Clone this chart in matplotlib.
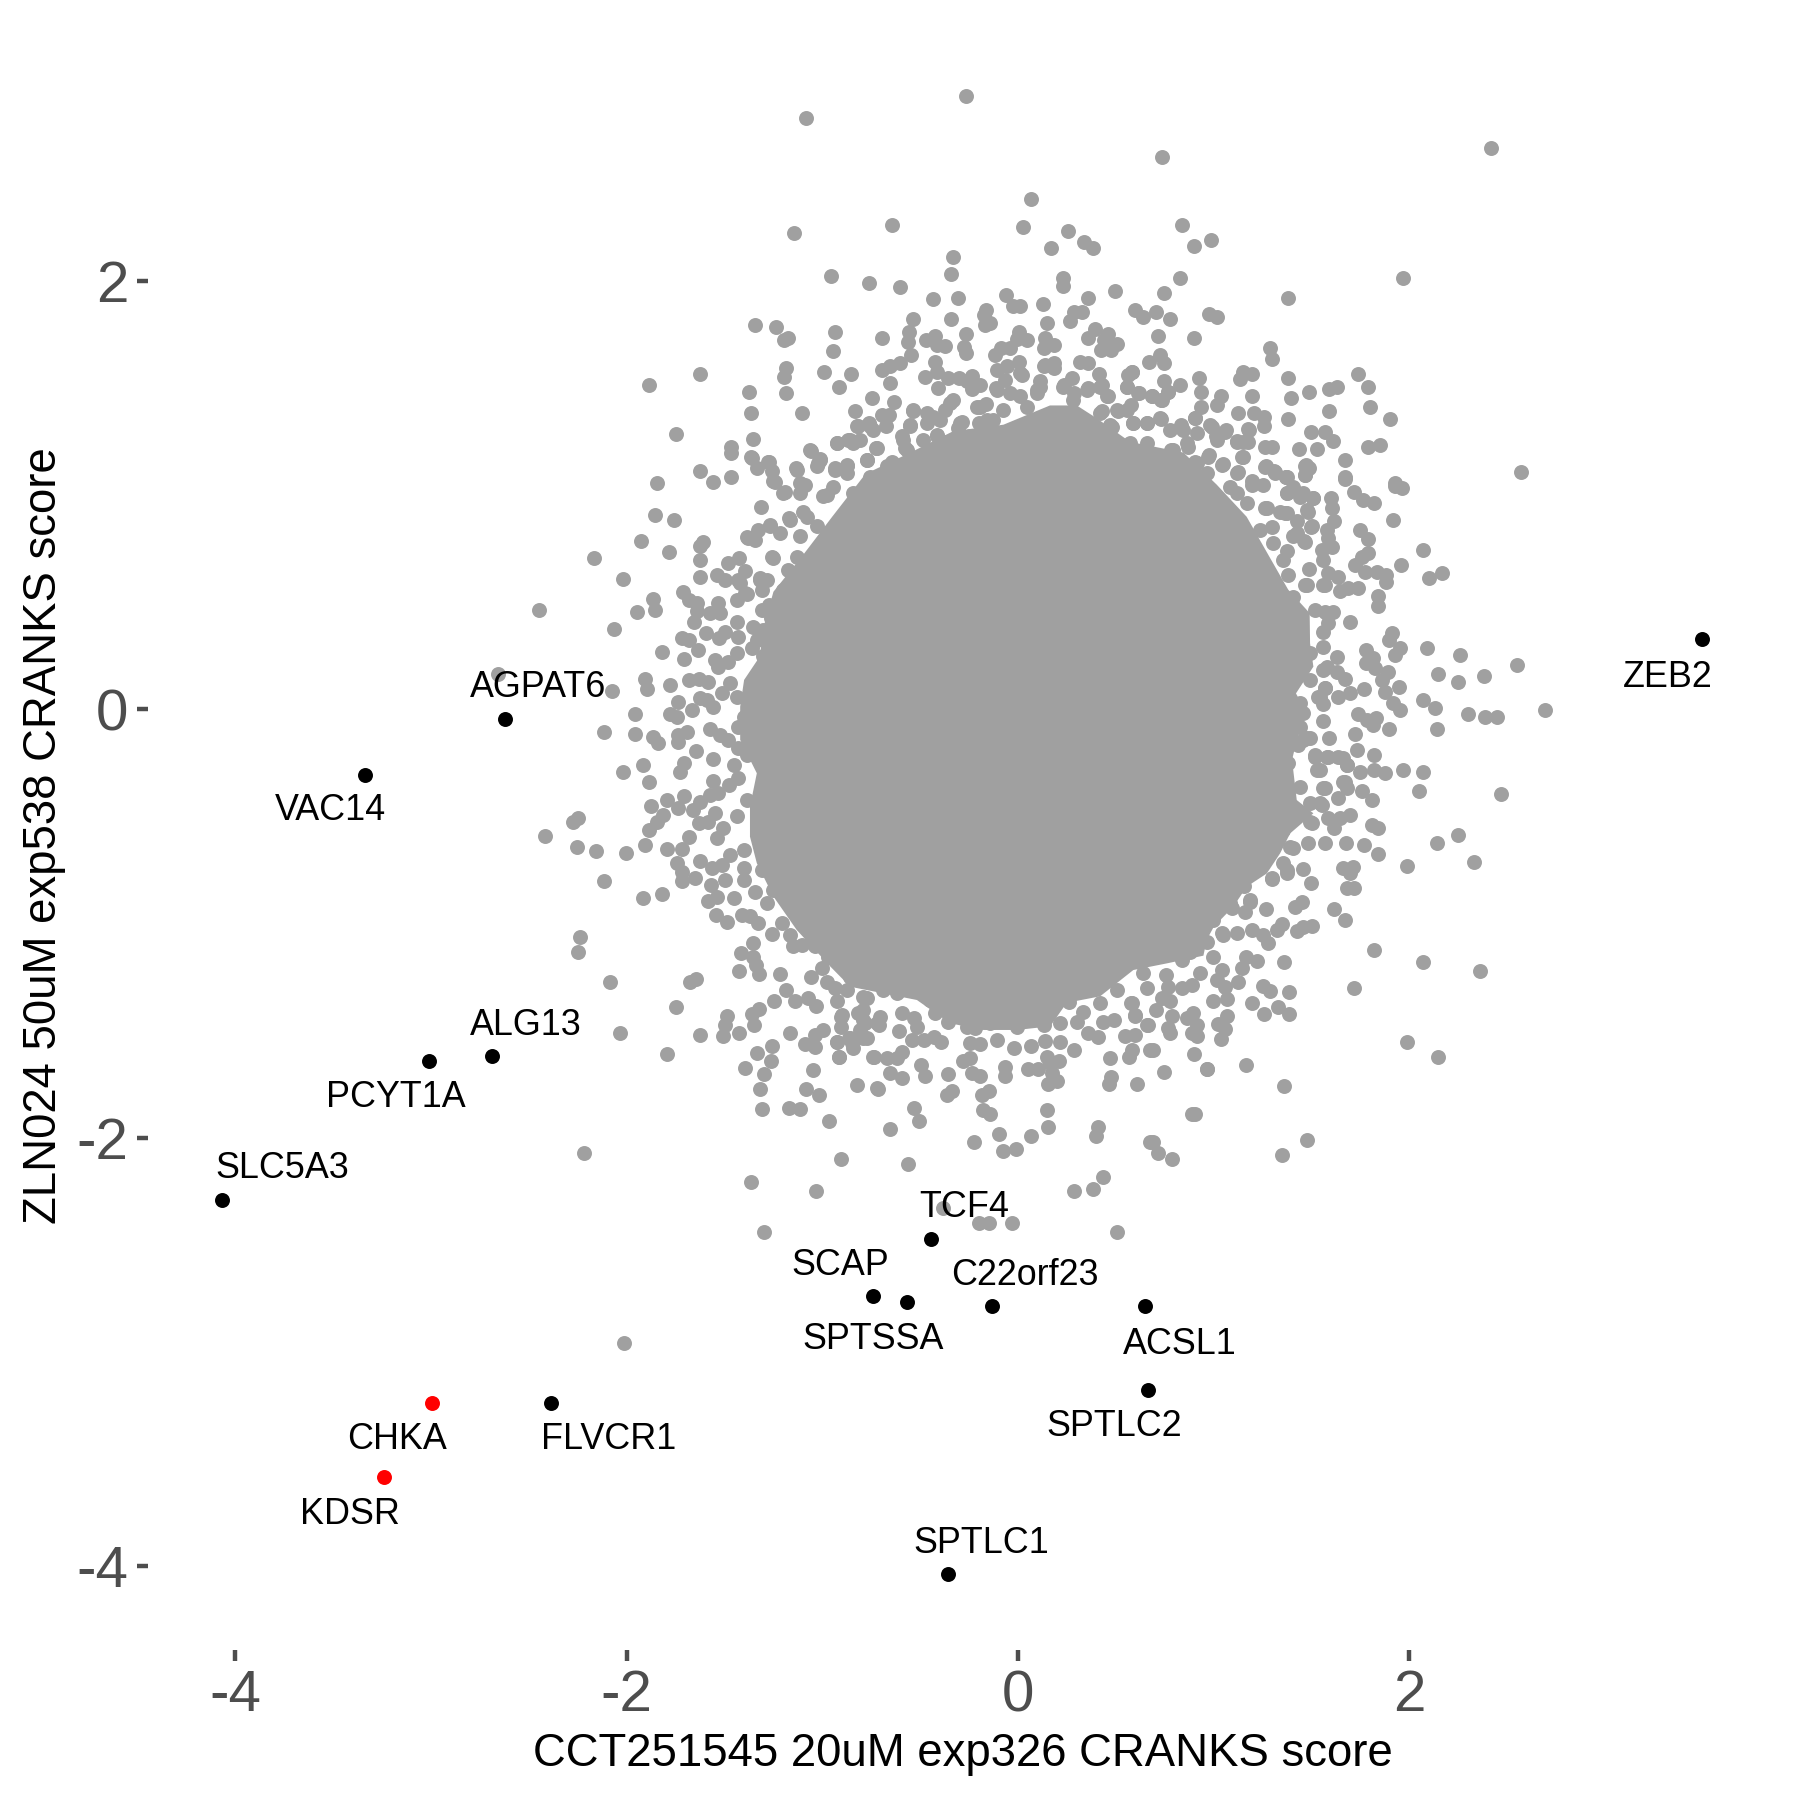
import matplotlib
matplotlib.use('Agg')
import matplotlib.pyplot as plt

plt.rcParams['font.family'] = ['Liberation Sans', 'DejaVu Sans']

x_ticks = [-4, -2, 0, 2]
y_ticks = [-4, -2, 0, 2]
x_tick_labels = ['-4', '-2', '0', '2']
y_tick_labels = ['-4', '-2', '0', '2']
x_title = 'CCT251545 20uM exp326 CRANKS score'
y_title = 'ZLN024 50uM exp538 CRANKS score'

# outline of the part where the points overlap into a solid area
core_outline = [
    (-0.331, 1.3), (-0.075, 1.33), (0.163, 1.42), (0.3, 1.42), (0.402, 1.36), (0.572, 1.25), (0.845, 1.2), (1.015, 1.05),
    (1.168, 0.9), (1.28, 0.72), (1.38, 0.56), (1.49, 0.45), (1.492, 0.309), (1.509, 0.2), (1.42, 0.075), (1.475, -0.018),
    (1.424, -0.143), (1.4, -0.236), (1.424, -0.423), (1.509, -0.485), (1.39, -0.579), (1.339, -0.672), (1.271, -0.766),
    (1.168, -0.828), (1.1, -0.921), (1.0, -1.015), (0.964, -1.076), (0.947, -1.15), (0.76, -1.186),
    (0.589, -1.217), (0.419, -1.34), (0.249, -1.37), (0.164, -1.48), (-0.006, -1.497), (-0.177, -1.497), (-0.347, -1.466),
    (-0.517, -1.357), (-0.688, -1.326), (-0.858, -1.295), (-0.96, -1.2), (-1.131, -1.03), (-1.25, -0.874),
    (-1.335, -0.718), (-1.37, -0.594), (-1.37, -0.454), (-1.335, -0.298), (-1.42, -0.142), (-1.42, 0.013), (-1.4, 0.138),
    (-1.32, 0.247), (-1.3, 0.387), (-1.25, 0.55), (-1.1, 0.72), (-0.95, 0.9), (-0.78, 1.1), (-0.55, 1.2),
]

# single points around it
upper_left = [
    (-0.264, 2.864), (-1.085, 2.763), (0.067, 2.385), (0.026, 2.254), (-0.645, 2.265), (-1.144, 2.224), (0.166, 2.154),
    (-0.335, 2.115), (-0.344, 2.034), (-0.955, 2.024), (-0.764, 1.994), (-0.604, 1.975), (0.232, 2.014), (0.232, 1.978),
    (-0.434, 1.915), (-0.305, 1.924), (-0.063, 1.935), (-0.027, 1.885), (0.011, 1.885), (0.126, 1.894), (-0.165, 1.866),
    (-0.173, 1.843), (-0.143, 1.804), (-0.167, 1.796), (-0.535, 1.826), (-0.344, 1.826), (0.147, 1.804), (-1.345, 1.795),
    (-1.236, 1.785), (-1.175, 1.736), (-1.195, 1.726), (-0.935, 1.765), (-0.945, 1.675), (-0.695, 1.736), (-0.555, 1.765),
    (-0.563, 1.715), (-0.545, 1.656), (-0.473, 1.725), (-0.424, 1.745), (-0.415, 1.703), (-0.374, 1.7), (-0.264, 1.756),
    (-0.274, 1.695), (-0.264, 1.664), (0.005, 1.765), (-0.007, 1.729), (0.045, 1.725), (-0.085, 1.686), (-0.041, 1.686),
    (-0.117, 1.656), (0.137, 1.736), (0.133, 1.686), (0.181, 1.703), (-0.424, 1.625), (-0.604, 1.616), (-0.654, 1.602),
    (-0.695, 1.586), (-0.475, 1.555), (-0.415, 1.578), (-0.41, 1.5), (-0.356, 1.546), (-0.301, 1.546), (-0.233, 1.558),
    (-0.262, 1.536), (-0.194, 1.516), (-0.233, 1.496), (-1.185, 1.597), (-1.195, 1.555), (-1.185, 1.476), (-0.994, 1.575),
    (-0.855, 1.566), (-0.916, 1.505), (-0.655, 1.525), (-1.625, 1.566), (-1.885, 1.516), (-1.376, 1.485), (-1.366, 1.385),
    (-1.105, 1.385), (-0.744, 1.455), (-0.635, 1.435), (-0.834, 1.396), (-0.535, 1.396), (-0.696, 1.376), (-0.662, 1.376),
    (-0.674, 1.326), (-0.824, 1.326), (-0.764, 1.337), (-0.742, 1.306), (-0.335, 1.446), (-0.373, 1.399), (-0.466, 1.384),
    (-0.466, 1.337), (-0.398, 1.353), (-0.552, 1.329), (-0.288, 1.345), (-0.305, 1.314), (-0.211, 1.415), (-0.165, 1.426),
    (-0.202, 1.337), (-0.126, 1.353), (-0.114, 1.5), (-0.109, 1.586), (-0.058, 1.602), (0.005, 1.625), (0.019, 1.563),
    (-0.066, 1.539), (0.113, 1.532), (0.13, 1.606), (0.181, 1.594), (-0.041, 1.477), (0.096, 1.477), (0.045, 1.415),
    (-1.746, 1.286), (-1.355, 1.265), (-1.465, 1.225), (-1.465, 1.2), (-1.366, 1.177), (-1.056, 1.206), (-1.011, 1.17),
    (-1.025, 1.135), (-1.275, 1.156), (-1.335, 1.127), (-1.255, 1.116), (-1.625, 1.116), (-1.136, 1.127), (-0.926, 1.245),
    (-0.867, 1.259), (-0.807, 1.259), (-0.875, 1.138), (-0.935, 1.127), (-0.725, 1.22), (-0.773, 1.166), (-0.594, 1.275),
    (-0.577, 1.22), (-0.415, 1.283), (-0.381, 1.251), (-0.645, 1.158), (-0.509, 1.166), (-0.245, 1.275),
]
upper_right = [
    (2.419, 2.623), (0.737, 2.582), (0.837, 2.263), (0.987, 2.193), (0.897, 2.164), (0.256, 2.234), (0.335, 2.184),
    (0.385, 2.154), (0.826, 2.014), (1.968, 2.014), (0.496, 1.955), (0.747, 1.944), (0.357, 1.924), (1.377, 1.924),
    (0.596, 1.865), (0.636, 1.835), (0.707, 1.855), (0.777, 1.826), (0.327, 1.855), (0.284, 1.855), (0.267, 1.815),
    (0.974, 1.845), (1.018, 1.835), (0.717, 1.745), (0.897, 1.736), (0.394, 1.776), (0.459, 1.756), (0.355, 1.736),
    (0.425, 1.68), (0.473, 1.68), (0.508, 1.706), (0.438, 1.726), (1.287, 1.686), (1.296, 1.636), (0.726, 1.656),
    (0.668, 1.625), (0.745, 1.616), (0.318, 1.625), (0.358, 1.616), (0.186, 1.617), (0.415, 1.566), (0.584, 1.575),
    (0.561, 1.563), (0.276, 1.546), (1.147, 1.575), (1.194, 1.566), (1.136, 1.542), (1.738, 1.566), (1.377, 1.546),
    (0.927, 1.546), (0.747, 1.536), (0.826, 1.516), (0.555, 1.505), (1.789, 1.505), (1.629, 1.505), (1.587, 1.496),
    (1.488, 1.485), (0.935, 1.485), (1.196, 1.466), (1.397, 1.455), (1.036, 1.466), (1.016, 1.423), (0.767, 1.485),
    (0.619, 1.477), (0.686, 1.462), (0.728, 1.446), (0.429, 1.516), (0.358, 1.5), (0.459, 1.465), (0.235, 1.516),
    (0.935, 1.415), (1.798, 1.415), (1.126, 1.387), (1.206, 1.387), (1.259, 1.365), (1.587, 1.396), (1.377, 1.356),
    (1.898, 1.356), (1.256, 1.325), (1.178, 1.306), (1.497, 1.296), (1.567, 1.296), (1.608, 1.256), (1.15, 1.251),
    (1.119, 1.256), (1.849, 1.236), (1.787, 1.225), (1.261, 1.225), (1.3, 1.225), (1.437, 1.216), (1.528, 1.216),
    (1.668, 1.166), (1.147, 1.181), (0.974, 1.187), (1.467, 1.138), (1.485, 1.127), (1.268, 1.138), (1.309, 1.116),
    (1.045, 1.147), (0.904, 1.158), (2.568, 1.107), (1.668, 1.088), (1.467, 1.096), (1.37, 1.088), (1.124, 1.111),
    (1.194, 1.065), (1.924, 1.057), (1.062, 1.306), (0.983, 1.329), (1.009, 1.275), (0.904, 1.36), (0.833, 1.329),
    (0.728, 1.356), (0.657, 1.337), (0.508, 1.399), (0.578, 1.423), (0.429, 1.392), (0.587, 1.337), (0.482, 1.321),
    (0.42, 1.267), (0.869, 1.228), (0.781, 1.212), (0.675, 1.158), (0.438, 1.189), (0.288, 1.477),
]
left_side = [
    (-1.846, 1.057), (-1.557, 1.064), (-1.466, 1.085), (-1.361, 1.173), (-1.242, 1.064), (-1.088, 1.049), (-1.191, 1.018),
    (-0.978, 1.002), (-0.875, 1.103), (-1.855, 0.906), (-1.756, 0.887), (-1.313, 0.948), (-1.173, 0.893), (-1.267, 0.862),
    (-1.327, 0.839), (-1.386, 0.804), (-1.344, 0.792), (-1.097, 0.924), (-1.925, 0.787), (-1.608, 0.784), (-1.625, 0.764),
    (-1.785, 0.737), (-2.165, 0.706), (-1.625, 0.697), (-1.424, 0.709), (-1.48, 0.686), (-1.259, 0.714), (-1.395, 0.649),
    (-1.625, 0.618), (-2.017, 0.608), (-1.536, 0.628), (-1.497, 0.605), (-1.429, 0.605), (-1.318, 0.613), (-1.284, 0.605),
    (-1.31, 0.558), (-1.386, 0.54), (-1.437, 0.512), (-1.71, 0.548), (-1.684, 0.509), (-1.642, 0.496), (-1.535, 0.496),
    (-1.867, 0.518), (-1.855, 0.465), (-1.947, 0.456), (-2.446, 0.465), (-1.642, 0.462), (-1.574, 0.449), (-1.523, 0.449),
    (-1.271, 0.488), (-1.31, 0.465), (-1.262, 0.429), (-1.655, 0.407), (-1.437, 0.41), (-1.352, 0.387), (-1.301, 0.372),
    (-2.066, 0.375), (-1.596, 0.356), (-1.497, 0.364), (-1.526, 0.333), (-1.718, 0.333), (-1.684, 0.325), (-1.429, 0.34),
    (-1.335, 0.325), (-1.361, 0.286), (-1.817, 0.267), (-1.635, 0.278), (-1.705, 0.236), (-1.437, 0.263), (-1.548, 0.231),
    (-1.48, 0.224), (-1.531, 0.2), (-1.301, 0.25), (-2.657, 0.166), (-1.906, 0.141), (-1.897, 0.096), (-2.076, 0.087),
    (-1.778, 0.115), (-1.684, 0.138), (-1.633, 0.141), (-1.582, 0.13), (-1.736, 0.037), (-1.514, 0.076), (-1.472, 0.122),
    (-1.625, 0.052), (-1.667, -0.002), (-1.557, 0.013), (-1.591, 0.045), (-1.957, -0.022), (-1.778, -0.022), (-1.741, -0.033),
    (-1.437, 0.06), (-1.403, -0.033), (-2.117, -0.103), (-1.96, -0.113), (-1.693, -0.103), (-1.736, -0.119), (-1.739, -0.15),
    (-1.574, -0.092), (-1.523, -0.119), (-1.48, -0.142), (-1.429, -0.08), (-1.863, -0.127), (-1.838, -0.155), (-1.645, -0.194),
    (-1.429, -0.181), (-1.386, -0.212), (-1.557, -0.233), (-1.707, -0.248), (-1.916, -0.259), (-1.73, -0.293), (-2.017, -0.293),
    (-1.454, -0.259), (-1.429, -0.321), (-1.887, -0.341), (-1.557, -0.332), (-1.475, -0.352), (-1.707, -0.402), (-1.795, -0.422),
    (-1.877, -0.452), (-1.736, -0.461), (-1.625, -0.43), (-1.574, -0.399), (-1.531, -0.391), (-1.386, -0.422), (-1.659, -0.469),
    (-1.548, -0.485), (-1.437, -0.497), (-1.633, -0.531), (-1.582, -0.524), (-1.812, -0.493), (-1.846, -0.524), (-1.887, -0.563),
    (-1.506, -0.555), (-2.247, -0.508), (-2.272, -0.524), (-2.417, -0.591), (-1.684, -0.594),
]
lower_left = [
    (-2.255, -0.642), (-2.156, -0.661), (-2.006, -0.672), (-1.906, -0.633), (-1.795, -0.651), (-1.718, -0.651), (-1.54, -0.601),
    (-1.744, -0.718), (-2.115, -0.801), (-1.718, -0.801), (-1.718, -0.757), (-1.625, -0.71), (-1.65, -0.788), (-1.565, -0.742),
    (-1.514, -0.726), (-1.472, -0.679), (-1.403, -0.656), (-1.403, -0.742), (-1.301, -0.633), (-1.31, -0.749), (-1.267, -0.742),
    (-1.817, -0.861), (-1.916, -0.882), (-1.569, -0.819), (-1.497, -0.796), (-1.403, -0.796), (-1.54, -0.874), (-1.587, -0.893),
    (-1.451, -0.882), (-1.344, -0.851), (-1.545, -0.961), (-1.487, -0.992), (-1.412, -0.961), (-1.369, -0.964), (-1.327, -0.998),
    (-1.284, -0.905), (-1.25, -0.843), (-1.182, -0.843), (-1.139, -0.796), (-1.259, -1.048), (-1.208, -0.998), (-1.165, -1.053),
    (-1.148, -1.107), (-1.105, -1.1), (-1.037, -1.107), (-0.96, -1.1), (-1.105, -0.921), (-1.063, -0.983), (-0.978, -0.952),
    (-0.978, -0.998), (-1.352, -1.092), (-1.414, -1.139), (-1.352, -1.154), (-1.34, -1.193), (-1.325, -1.235), (-1.424, -1.221),
    (-1.216, -1.235), (-2.238, -1.061), (-2.247, -1.132), (-2.086, -1.271), (-1.676, -1.271), (-1.645, -1.26), (-1.056, -1.251),
    (-1.003, -1.209), (-0.969, -1.154), (-0.85, -1.162), (-0.978, -1.271), (-0.935, -1.302), (-0.875, -1.31), (-0.858, -1.248),
    (-1.185, -1.31), (-1.247, -1.361), (-1.139, -1.364), (-1.071, -1.349), (-1.032, -1.383), (-0.926, -1.364), (-0.901, -1.427),
    (-0.906, -1.481), (-0.773, -1.349), (-0.816, -1.419), (-0.782, -1.466), (-0.773, -1.536), (-0.722, -1.466), (-1.746, -1.392),
    (-1.485, -1.43), (-1.497, -1.473), (-1.506, -1.525), (-1.322, -1.399), (-1.361, -1.422), (-1.349, -1.476), (-1.424, -1.512),
    (-1.625, -1.52), (-2.035, -1.512), (-1.165, -1.512), (-0.995, -1.497), (-1.037, -1.52), (-1.088, -1.564), (-1.037, -1.575),
    (-0.926, -1.551), (-0.858, -1.536), (-0.845, -1.582), (-1.255, -1.57), (-1.335, -1.603), (-1.795, -1.61), (-1.265, -1.641),
    (-1.395, -1.676), (-1.296, -1.702), (-1.046, -1.682), (-0.915, -1.621), (-0.739, -1.621), (-1.317, -1.772), (-1.085, -1.772),
    (-1.015, -1.802), (-0.824, -1.752), (-0.722, -1.769), (-1.31, -1.866), (-1.173, -1.861), (-1.114, -1.867), (-0.964, -1.92),
    (-2.216, -2.07), (-0.904, -2.099), (-1.366, -2.205), (-2.012, -2.96),
]
right_side = [
    (1.668, 1.075), (1.262, 1.134), (1.313, 1.111), (1.369, 1.088), (1.472, 1.142), (1.467, 1.096), (1.926, 1.046), (1.96, 1.036),
    (1.717, 1.018), (1.765, 0.979), (1.819, 0.966), (1.598, 0.987), (1.603, 0.943), (1.509, 0.987), (1.373, 1.01), (1.441, 0.994),
    (1.918, 0.885), (1.616, 0.878), (1.497, 0.854), (1.475, 0.932), (1.271, 0.94), (1.364, 0.916), (1.748, 0.839), (1.787, 0.797),
    (1.577, 0.839), (1.586, 0.8), (1.461, 0.787), (1.407, 0.808), (2.068, 0.745), (1.552, 0.745), (1.603, 0.758), (1.79, 0.73),
    (1.756, 0.711), (1.56, 0.699), (1.722, 0.675), (1.957, 0.675), (1.487, 0.656), (2.168, 0.636), (2.098, 0.616), (1.773, 0.644),
    (1.833, 0.644), (1.879, 0.628), (1.879, 0.594), (1.586, 0.636), (1.637, 0.621), (1.56, 0.582), (1.645, 0.555), (1.739, 0.566),
    (1.688, 0.566), (1.475, 0.582), (1.838, 0.53), (1.838, 0.485), (1.518, 0.465), (1.611, 0.457), (1.569, 0.457), (1.696, 0.407),
    (1.586, 0.403), (1.56, 0.364), (1.909, 0.359), (1.897, 0.325), (1.952, 0.286), (1.926, 0.255), (2.088, 0.286), (2.259, 0.256),
    (1.56, 0.294), (1.778, 0.278), (1.628, 0.247), (1.816, 0.239), (1.777, 0.216), (1.824, 0.192), (1.889, 0.177), (1.577, 0.2),
    (1.628, 0.177), (2.55, 0.207), (2.38, 0.157), (2.148, 0.166), (2.248, 0.127), (1.858, 0.138), (1.671, 0.143), (1.949, 0.107),
    (1.875, 0.083), (1.768, 0.096), (1.569, 0.099), (1.696, 0.076), (1.637, 0.057), (2.068, 0.046), (2.129, 0.007), (1.918, 0.029),
    (1.952, -0.002), (1.543, 0.06), (1.557, 0.024), (2.69, -0.002), (2.299, -0.022), (2.386, -0.033), (2.449, -0.033), (1.736, -0.022),
    (1.782, -0.049), (1.829, -0.041), (1.816, -0.072), (1.557, -0.053), (1.897, -0.092), (2.139, -0.092), (1.722, -0.114), (1.589, -0.134),
    (1.492, -0.134), (1.432, -0.166), (1.731, -0.189), (1.817, -0.212), (1.518, -0.212), (1.586, -0.22), (1.662, -0.228), (1.679, -0.259),
    (1.543, -0.282), (1.748, -0.293), (1.817, -0.282), (1.875, -0.298), (1.969, -0.282), (2.068, -0.293), (1.671, -0.337), (1.679, -0.368),
    (1.56, -0.368), (1.758, -0.38), (2.049, -0.382), (2.468, -0.393), (1.807, -0.422), (1.637, -0.415), (1.552, -0.446), (1.696, -0.493),
    (1.586, -0.508), (1.645, -0.508), (1.616, -0.555), (1.501, -0.531), (1.807, -0.539), (1.841, -0.555), (2.247, -0.586), (2.139, -0.625),
]
lower_right = [
    (1.569, -0.622), (1.484, -0.625), (1.674, -0.622), (1.766, -0.633), (1.838, -0.675), (2.328, -0.712), (1.988, -0.732), (1.662, -0.742),
    (1.71, -0.734), (1.696, -0.765), (1.458, -0.746), (1.376, -0.765), (1.296, -0.793), (1.356, -0.718), (1.407, -0.648), (1.499, -0.812),
    (1.679, -0.832), (1.717, -0.832), (1.155, -0.824), (1.185, -0.889), (1.16, -0.944), (1.083, -0.905), (1.267, -0.933), (1.45, -0.9),
    (1.415, -0.921), (1.616, -0.933), (1.668, -0.983), (1.347, -1.002), (1.322, -1.03), (1.501, -1.011), (1.458, -1.014), (1.424, -1.033),
    (1.194, -1.03), (1.254, -1.053), (1.276, -1.092), (1.117, -1.042), (1.046, -1.053), (0.964, -0.952), (0.998, -0.983), (0.964, -1.084),
    (1.817, -1.123), (2.068, -1.181), (2.359, -1.221), (1.358, -1.181), (1.165, -1.154), (1.22, -1.173), (1.143, -1.209), (1.126, -1.271),
    (0.998, -1.154), (1.041, -1.216), (1.015, -1.263), (1.058, -1.297), (1.066, -1.352), (0.998, -1.361), (1.717, -1.302), (1.254, -1.29),
    (1.288, -1.313), (1.386, -1.321), (1.197, -1.371), (1.327, -1.391), (1.259, -1.422), (1.386, -1.422), (1.066, -1.431), (1.024, -1.47),
    (1.058, -1.492), (1.037, -1.54), (1.988, -1.551), (2.148, -1.621), (1.167, -1.66), (0.967, -1.68), (1.358, -1.761), (1.478, -2.01),
    (1.347, -2.082),
]
bottom = [
    (-0.654, -1.123), (-0.594, -1.419), (-0.534, -1.443), (-0.713, -1.474), (-0.705, -1.435), (-0.611, -1.5), (-0.543, -1.544), (-0.483, -1.544),
    (-0.432, -1.528), (-0.395, -1.552), (-0.517, -1.481), (-0.424, -1.419), (-0.356, -1.458), (-0.262, -1.481), (-0.219, -1.489), (-0.245, -1.559),
    (-0.194, -1.562), (-0.109, -1.544), (-0.023, -1.58), (0.067, -1.572), (0.138, -1.547), (0.215, -1.552), (0.287, -1.59), (0.355, -1.513),
    (0.406, -1.531), (0.547, -1.524), (0.598, -1.52), (0.581, -1.59), (0.568, -1.622), (0.471, -1.629), (0.474, -1.715), (0.467, -1.751),
    (0.607, -1.751), (0.147, -1.622), (0.164, -1.653), (0.207, -1.642), (0.053, -1.681), (0.104, -1.681), (0.172, -1.699), (0.198, -1.734),
    (0.155, -1.751), (-0.066, -1.668), (-0.066, -1.712), (-0.279, -1.642), (-0.245, -1.629), (-0.236, -1.699), (-0.194, -1.71), (-0.356, -1.701),
    (-0.495, -1.659), (-0.475, -1.712), (-0.594, -1.598), (-0.62, -1.629), (-0.671, -1.629), (-0.735, -1.622), (-0.654, -1.699), (-0.594, -1.723),
    (-0.715, -1.771), (-0.151, -1.78), (-0.185, -1.801), (-0.339, -1.78), (-0.364, -1.801), (-0.534, -1.86), (-0.504, -1.922), (-0.177, -1.871),
    (-0.143, -1.891), (0.147, -1.871), (0.155, -1.952), (-0.654, -1.961), (0.408, -1.949), (0.397, -1.992), (0.067, -1.992), (-0.095, -1.981),
    (-0.224, -2.022), (-0.075, -2.061), (-0.013, -2.051), (0.675, -2.022), (-0.565, -2.121), (0.436, -2.182), (0.385, -2.241), (0.287, -2.251),
    (-1.035, -2.251), (-1.296, -2.441), (-0.386, -2.33), (-0.202, -2.4), (-0.151, -2.4), (-0.032, -2.4), (0.508, -2.441), (-0.79, -1.341),
    (-0.79, -1.404), (-0.79, -1.45), (-0.807, -1.497), (-0.79, -1.536), (-0.85, -1.559), (-0.923, -1.552), (-0.863, -1.536), (-0.914, -1.622),
    (-0.906, -1.435), (-0.858, -1.232), (-0.688, -1.31), (-0.62, -1.326), (-0.449, -1.357), (-0.517, -1.295), (-0.347, -1.404), (-0.236, -1.419),
    (-0.143, -1.466), (-0.075, -1.45), (-0.006, -1.481), (0.13, -1.474), (0.215, -1.466), (0.3, -1.458), (0.334, -1.411), (0.436, -1.458),
    (0.488, -1.45), (0.42, -1.373), (0.258, -1.365), (0.505, -1.31), (0.581, -1.373), (0.598, -1.427), (0.666, -1.474), (0.675, -1.59),
    (0.836, -1.17), (0.879, -1.131), (0.93, -1.232), (0.887, -1.287), (0.836, -1.302), (0.756, -1.24), (0.768, -1.295), (0.734, -1.349),
    (0.777, -1.36), (0.705, -1.404), (0.785, -1.432), (0.657, -1.302), (0.64, -1.232), (0.576, -1.369), (0.598, -1.43), (0.657, -1.474),
    (0.768, -1.489), (0.777, -1.513), (0.862, -1.443), (0.896, -1.416), (0.913, -1.474), (0.887, -1.51), (0.913, -1.525), (0.688, -1.59),
    (0.898, -1.611), (0.746, -1.692), (0.967, -1.681), (0.89, -1.891), (0.905, -1.891), (0.688, -2.021), (0.717, -2.07), (0.787, -2.101),
]
# points of the crowded band next to the solid area
band_upper_left = [
    (-1.199, 1.01), (-1.114, 1.01), (-0.995, 0.995), (-1.08, 0.901), (-1.165, 0.886), (-1.267, 0.855), (-1.378, 0.8), (-1.216, 0.823),
    (-1.114, 0.808), (-1.029, 0.855), (-0.927, 0.855), (-0.842, 0.87), (-1.012, 0.761), (-1.131, 0.714), (-1.25, 0.706), (-1.174, 0.652),
    (-1.319, 0.605), (-1.421, 0.59), (-1.199, 0.559), (-1.395, 0.543), (-1.08, 0.59), (-1.276, 1.158), (-1.25, 1.065), (-1.131, 1.119),
    (-1.114, 1.057), (-1.021, 1.15), (-0.935, 1.119), (-0.876, 1.142), (-0.774, 1.166), (-0.722, 1.22), (-0.927, 1.244), (-0.859, 1.259),
    (-0.816, 1.322), (-0.756, 1.322), (-0.842, 1.244), (-0.944, 1.041), (-0.842, 1.01), (-0.757, 1.088), (-0.774, 0.963), (-0.671, 1.135),
    (-0.552, 1.322), (-0.586, 1.259), (-0.569, 1.213), (-0.484, 1.259), (-0.535, 1.399), (-0.433, 1.368), (-0.348, 1.43), (-0.297, 1.337),
    (-0.416, 1.275), (-0.194, 1.415), (-0.16, 1.353), (-0.075, 1.399), (-0.109, 1.493), (0.01, 1.462), (0.095, 1.493), (0.01, 1.571),
    (-1.063, 1.213), (-1.012, 1.166),
]
band_upper_right = [
    (0.112, 1.508), (0.231, 1.508), (0.282, 1.446), (0.351, 1.493), (0.419, 1.508), (0.453, 1.462), (0.419, 1.384), (0.47, 1.329),
    (0.172, 1.602), (0.138, 1.609), (0.512, 1.392), (0.555, 1.508), (0.615, 1.477), (0.683, 1.462), (0.734, 1.446), (0.768, 1.485),
    (0.58, 1.578), (0.555, 1.399), (0.589, 1.337), (0.657, 1.337), (0.725, 1.36), (0.572, 1.244), (0.657, 1.244), (0.776, 1.306),
    (0.844, 1.306), (0.904, 1.36), (0.913, 1.29), (0.989, 1.321), (1.057, 1.298), (1.015, 1.259), (0.793, 1.213), (0.862, 1.244),
    (0.793, 1.135), (0.913, 1.15), (0.972, 1.181), (1.04, 1.143), (0.964, 1.104), (1.117, 1.104), (1.117, 1.251), (1.177, 1.251),
    (1.177, 1.309), (1.146, 1.181), (1.194, 1.049), (1.253, 1.049), (1.117, 1.01), (1.313, 1.104), (1.373, 1.088), (1.407, 1.041),
    (1.373, 1.01), (1.458, 1.01), (1.509, 0.987), (1.262, 0.94), (1.339, 0.924), (1.373, 0.917), (1.483, 0.924), (1.424, 0.878),
    (1.5, 0.855), (1.296, 0.854), (1.236, 0.839), (1.424, 0.823), (1.466, 0.784), (1.304, 0.776), (1.373, 0.738), (1.356, 0.698),
    (1.253, 0.66), (1.381, 0.629), (1.322, 0.574), (1.466, 0.582), (1.407, 0.527), (1.083, 1.041), (1.168, 0.963), (1.569, 0.582),
]
band_right = [
    (1.424, -0.158), (1.458, -0.143), (1.381, -0.252), (1.305, -0.283), (1.364, -0.345), (1.288, -0.384), (1.441, -0.361), (1.518, -0.221),
    (1.526, -0.283), (1.569, -0.368), (1.577, -0.221), (1.637, -0.221), (1.679, -0.26), (1.662, -0.337), (1.492, -0.439), (1.543, -0.439),
    (1.492, -0.524), (1.356, -0.563), (1.39, -0.641), (1.373, -0.75), (1.296, -0.789), (1.151, -0.82), (1.185, -0.898), (1.092, -0.929),
    (1.041, -1.046), (0.973, -0.937), (1.441, -0.08), (1.475, -0.135), (1.356, 0.044), (1.441, 0.028), (1.458, -0.018), (1.535, 0.06),
    (1.424, 0.2), (1.492, 0.137), (1.569, 0.098), (1.492, 0.262), (1.56, 0.184),
]

# labelled genes
gene_names = ['ZEB2', 'AGPAT6', 'VAC14', 'ALG13', 'PCYT1A', 'SLC5A3', 'TCF4', 'SCAP', 'SPTSSA', 'C22orf23',
              'ACSL1', 'SPTLC2', 'FLVCR1', 'SPTLC1']
gene_x = [3.496, -2.622, -3.337, -2.686, -3.009, -4.07, -0.446, -0.739, -0.569, -0.135, 0.651, 0.663, -2.387, -0.358]
gene_y = [0.327, -0.043, -0.306, -1.619, -1.641, -2.29, -2.472, -2.74, -2.767, -2.788, -2.788, -3.18, -3.239, -4.038]
gene_label_x = [3.32, -2.452, -3.513, -2.516, -3.179, -3.76, -0.276, -0.909, -0.739, 0.035, 0.827, 0.493, -2.094, -0.188]
gene_label_y = [0.149, 0.101, -0.473, -1.476, -1.814, -2.146, -2.328, -2.596, -2.945, -2.645, -2.966, -3.347, -3.412, -3.894]

red_names = ['CHKA', 'KDSR']
red_x = [-2.997, -3.238]
red_y = [-3.239, -3.587]
red_label_x = [-3.173, -3.413]
red_label_y = [-3.412, -3.76]

fig = plt.figure(figsize=(18, 18), dpi=100)
ax = fig.add_axes([148 / 1800, 150 / 1800, 1629 / 1800, 1628 / 1800])

grey = '#A0A0A0'
ax.fill([p[0] for p in core_outline], [p[1] for p in core_outline], color=grey, linewidth=0, zorder=1)
points = (upper_left + upper_right + left_side + lower_left + right_side + lower_right + bottom
          + band_upper_left + band_upper_right + band_right)
ax.scatter([p[0] for p in points], [p[1] for p in points], s=116, color=grey, linewidths=0, zorder=2)
ax.scatter(gene_x, gene_y, s=116, color='black', linewidths=0, zorder=3)
ax.scatter(red_x, red_y, s=116, color='#FF0000', linewidths=0, zorder=3)

for name, lx, ly in zip(gene_names + red_names, gene_label_x + red_label_x, gene_label_y + red_label_y):
    ax.text(lx, ly, name, fontsize=25.8, color='black', ha='center', va='center', zorder=4)

ax.set_xlim(-4.446, 3.878)
ax.set_ylim(-4.393, 3.211)
ax.set_xticks(x_ticks)
ax.set_xticklabels(x_tick_labels)
ax.set_yticks(y_ticks)
ax.set_yticklabels(y_tick_labels)
ax.tick_params(axis='both', labelsize=42, labelcolor='#4D4D4D', color='#4D4D4D', length=8, width=3.2, pad=6)
for side in ['top', 'right', 'left', 'bottom']:
    ax.spines[side].set_visible(False)

ax.set_xlabel(x_title, fontsize=32.8, labelpad=6.5)
ax.set_ylabel(y_title, fontsize=32.8, labelpad=7.5)

plt.savefig('out.png', dpi=100)
plt.close()
